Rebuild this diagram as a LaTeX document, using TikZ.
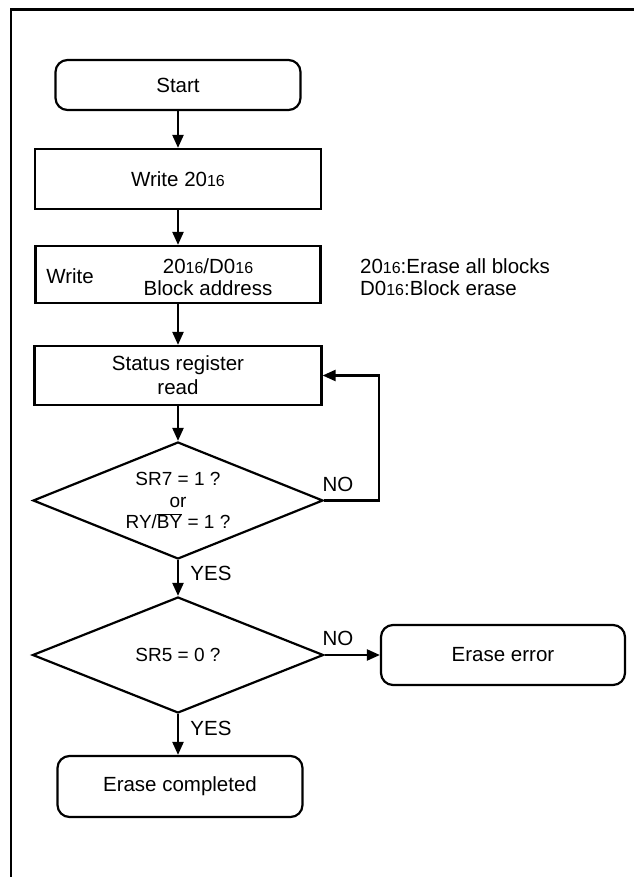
\documentclass[tikz,border=0pt]{standalone}
\usepackage{fontspec}
\setmainfont{Liberation Sans}
\usetikzlibrary{arrows.meta,shapes.geometric,positioning}
\newcommand{\hexs}{{\fontsize{16}{16}\selectfont 16}}

\begin{document}
\begin{tikzpicture}[x=1pt,y=-1pt,line width=2.2pt,
    >={Triangle[length=13pt,width=11pt]},
    every node/.style={font=\fontsize{20.5}{23}\selectfont},
    termbox/.style={rectangle,draw,rounded corners=12pt,minimum width=245pt,minimum height=50pt},
    procbox/.style={rectangle,draw,minimum width=286pt,minimum height=58pt},
    decbox/.style={diamond,draw,aspect=2.5,inner sep=0pt,minimum width=290pt,minimum height=117pt,
      align=center,font=\fontsize{19}{21.5}\selectfont},
    lbl/.style={inner sep=0pt}]
      \useasboundingbox (0,0) rectangle (633,877);
      % outer frame
      \draw[line width=2.7pt] (11,900) -- (11,9.5) -- (660,9.5);

      % main flow
      \node[termbox] (start) at (178,85) {Start};
      \node[procbox,minimum height=60pt] (wr20) at (178,179) {Write 20\hexs};
      \node[procbox,minimum width=285pt,minimum height=57pt] (blk) at (178,274.5) {};
      \node[lbl] (blkwr) at (70,276) {Write};
      \node[lbl,align=center,font=\fontsize{20.5}{22}\selectfont] (blkad) at (208,277) {20\hexs/D0\hexs\\Block address};
      \node[lbl,anchor=west,align=left,font=\fontsize{20.5}{22}\selectfont] (note) at (359,277) {20\hexs:Erase all blocks\\D0\hexs:Block erase};
      \node[procbox,minimum width=287pt,minimum height=59pt,align=center,font=\fontsize{20.5}{24}\selectfont] (srread) at (178,375.5) {Status register\\read};
      \node[decbox] (sr7) at (178,500.5) {SR7 = 1 ?\\or\\RY/$\overline{\mbox{BY}}$ = 1 ?};
      \node[decbox,minimum width=291pt,minimum height=116pt] (sr5) at (178,655) {SR5 = 0 ?};
      \node[termbox,minimum width=244pt,minimum height=60pt] (err) at (503,655) {Erase error};
      \node[termbox,minimum height=61pt] (done) at (180,786.5) {Erase completed};

      \draw[->] (start) -- (start |- wr20.north);
      \draw[->] (wr20) -- (wr20 |- blk.north);
      \draw[->] (blk) -- (blk |- srread.north);
      \draw[->] (srread) -- (srread |- sr7.north);

      % wait loop
      \coordinate (loopc) at (379,500.5);
      \draw[->] (sr7.east) -- (loopc) |- (srread.east);
      \node[lbl] (no1) at (338,484) {NO};

      \draw[->] (sr7) -- (sr7 |- sr5.north);
      \node[lbl] (yes1) at (211,573) {YES};

      \draw[->] (sr5.east) -- (err.west);
      \node[lbl] (no2) at (338,638) {NO};

      \draw[->] (sr5) -- (sr5 |- done.north);
      \node[lbl] (yes2) at (211,728) {YES};
    \end{tikzpicture}
\end{document}
